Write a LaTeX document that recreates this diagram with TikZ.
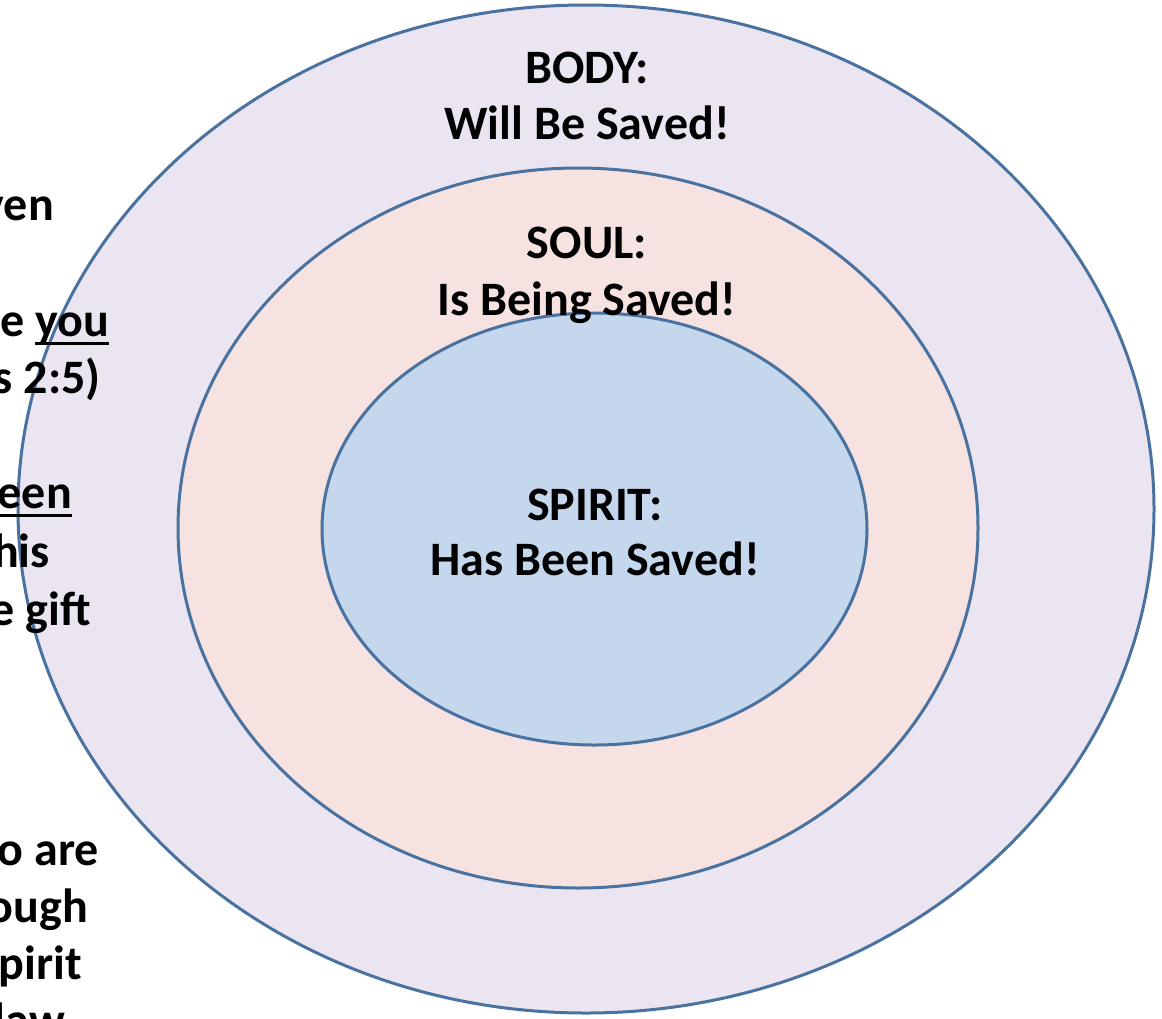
\documentclass[tikz,border=0pt]{standalone}
\usepackage{fontspec}
\setmainfont{Carlito}
\definecolor{outerfill}{HTML}{EBE5F1}
\definecolor{midfill}{HTML}{F5E2E1}
\definecolor{innerfill}{HTML}{C4D7EC}
\definecolor{ringline}{HTML}{4A72A0}
\newcommand\myul[1]{\setbox0\hbox{#1}\rlap{\rule[-8.5pt]{\wd0}{2.8pt}}\box0}
\tikzset{
  ring/.style={draw=ringline, line width=3pt},
  lbl/.style={inner sep=0pt, font=\fontsize{48}{56}\selectfont\bfseries, text=black},
}
\begin{document}
\begin{tikzpicture}[x=1pt,y=-1pt]
\useasboundingbox (0,0) rectangle (1162,1018);
\clip (0,0) rectangle (1162,1018);
\fill[white] (0,0) rectangle (1162,1018);
% rings
\path[ring, fill=outerfill] (586,509) ellipse [x radius=568, y radius=504];
\path[ring, fill=midfill] (578,528) ellipse [x radius=400, y radius=360];
\path[ring, fill=innerfill] (594.5,529) ellipse [x radius=272.5, y radius=216];
% ring labels
\node[lbl, anchor=base] (body1) at (587,83) {BODY:};
\node[lbl, anchor=base] (body2) at (587,139) {Will Be Saved!};
\node[lbl, anchor=base] (soul1) at (587,258) {SOUL:};
\node[lbl, anchor=base] (soul2) at (587,315) {Is Being Saved!};
\node[lbl, anchor=base] (spirit1) at (595,520) {SPIRIT:};
\node[lbl, anchor=base] (spirit2) at (595,575) {Has Been Saved!};
% left text fragments
\node[lbl, anchor=base east] (l1) at (54,220) {ven};
\node[lbl, anchor=base east] (l2) at (109,336) {e \myul{you}};
\node[lbl, anchor=base east] (l3) at (101,393) {s 2:5)};
\node[lbl, anchor=base east] (l4) at (72,508) {\myul{een}};
\node[lbl, anchor=base east] (l5) at (50,567) {his};
\node[lbl, anchor=base east] (l6) at (91,625) {e gift};
\node[lbl, anchor=base east] (l7) at (99,865) {o are};
\node[lbl, anchor=base east] (l8) at (88,922) {ough};
\node[lbl, anchor=base east] (l9) at (82,979) {pirit};
\node[lbl, anchor=base east] (l10) at (65,1036) {law};
\end{tikzpicture}
\end{document}
